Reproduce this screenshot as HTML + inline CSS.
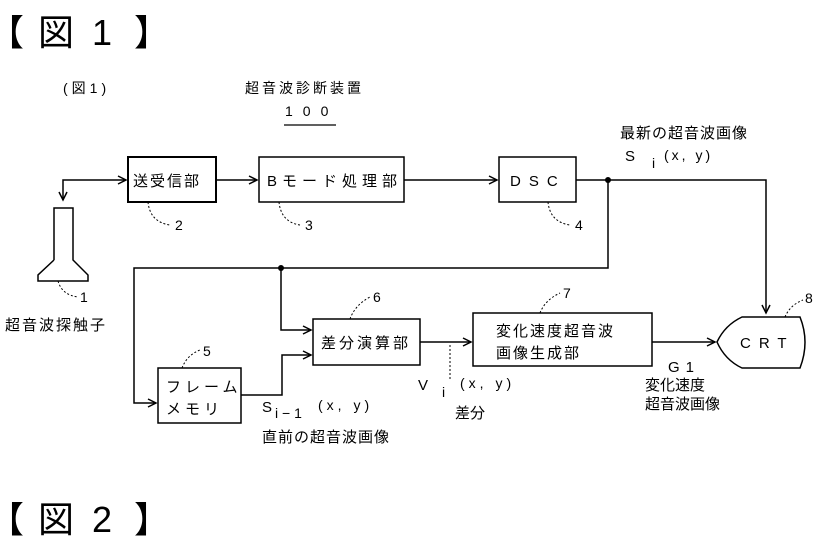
<!DOCTYPE html>
<html><head><meta charset="utf-8"><style>
html,body{margin:0;padding:0;background:#fff;}
svg{display:block;}
text{font-family:"Liberation Sans","Noto Sans CJK JP",sans-serif;fill:#000;}
.s{font-size:14px;}
.m{font-size:15px;}
</style></head><body>
<svg width="815" height="543" viewBox="0 0 815 543" xmlns="http://www.w3.org/2000/svg">
<g font-size="36">
<text x="-12" y="45">【</text><text x="38" y="45">図</text><text x="92" y="45">1</text><text x="134" y="45">】</text>
<text x="-12" y="532">【</text><text x="38" y="532">図</text><text x="92" y="532">2</text><text x="134" y="532">】</text>
</g>
<g stroke="#000" fill="none" stroke-width="1.5">
<rect x="128" y="157" width="88" height="45" stroke-width="2"/>
<rect x="259" y="157" width="145" height="45"/>
<rect x="499" y="157" width="77" height="45"/>
<rect x="313" y="319" width="107" height="46"/>
<rect x="158" y="368" width="83" height="55"/>
<rect x="473" y="313" width="179" height="53"/>
<path d="M800 317 H742 Q725 325 717 342 Q725 360 742 368 H800 Q810 342 800 317 Z"/>
<path d="M54 260 V208 H73 V260 L88 275 V281 H38 V275 L54 260"/>
<path d="M63 200 V180 H126"/>
<path d="M216 180 H257 M404 180 H497 M576 180 H766 V313"/>
<path d="M608 180 V268 H134 V403 H156"/>
<path d="M281 268 V330 H311"/>
<path d="M241 395 H282 V355 H311"/>
<path d="M420 342 H471 M652 342 H715"/>
<path d="M59 192 L63 200 L67 192 M118 176 L126 180 L118 184 M249 176 L257 180 L249 184 M489 176 L497 180 L489 184 M762 305 L766 313 L770 305 M148 399 L156 403 L148 407 M303 326 L311 330 L303 334 M303 351 L311 355 L303 359 M463 338 L471 342 L463 346 M707 338 L715 342 L707 346"/>
<path stroke-dasharray="2 2" stroke-width="1" d="M148 202 Q150 222 170 225 M279 202 Q281 222 300 225 M548 202 Q550 222 570 225 M58 281 Q62 295 78 297 M350 319 Q355 305 370 297 M182 368 Q187 355 200 350 M540 313 Q545 300 560 293 M785 317 Q790 305 803 300 M450 345 V380"/>
</g>
<g fill="#000"><circle cx="608" cy="180" r="3"/><circle cx="281" cy="268" r="3"/></g>
<text class="m" x="133" y="186" letter-spacing="2">送受信部</text>
<text class="m" x="267" y="186" letter-spacing="5">Bモード処理部</text>
<text class="m" x="510" y="186" letter-spacing="8">DSC</text>
<text class="m" x="321" y="348" letter-spacing="3">差分演算部</text>
<text class="m" x="166" y="392" letter-spacing="4">フレーム</text>
<text class="m" x="166" y="414" letter-spacing="4">メモリ</text>
<text class="m" x="496" y="336" letter-spacing="2">変化速度超音波</text>
<text class="m" x="496" y="358" letter-spacing="2">画像生成部</text>
<text class="m" x="740" y="348" letter-spacing="8">CRT</text>
<text class="s" x="63" y="93" letter-spacing="4">(図1)</text>
<text class="s" x="245" y="93" letter-spacing="3">超音波診断装置</text>
<text class="s" x="285" y="116" letter-spacing="10">100</text>
<path d="M284 125 H336" stroke="#000" stroke-width="1.2"/>
<text class="m" x="620" y="138" letter-spacing="1">最新の超音波画像</text>
<text class="m" x="625" y="161">S</text><text class="s" x="652" y="168">i</text><text class="s" x="664" y="160" letter-spacing="3">(x, y)</text>
<text class="s" x="175" y="230">2</text><text class="s" x="305" y="230">3</text><text class="s" x="575" y="230">4</text>
<text class="s" x="80" y="302">1</text><text class="s" x="373" y="302">6</text><text class="s" x="203" y="356">5</text><text class="s" x="563" y="298">7</text><text class="s" x="805" y="303">8</text>
<text class="m" x="5" y="330" letter-spacing="2">超音波探触子</text>
<text class="m" x="418" y="390">V</text><text class="s" x="442" y="397">i</text><text class="s" x="460" y="388" letter-spacing="4">(x, y)</text>
<text class="m" x="455" y="418">差分</text>
<text class="m" x="262" y="412">S</text><text class="s" x="275" y="418">i − 1</text><text class="s" x="318" y="410" letter-spacing="4">(x, y)</text>
<text class="m" x="262" y="442" letter-spacing="1">直前の超音波画像</text>
<text class="m" x="668" y="372" letter-spacing="6">G1</text>
<text class="m" x="645" y="390">変化速度</text>
<text class="m" x="645" y="409">超音波画像</text>
</svg>
</body></html>
